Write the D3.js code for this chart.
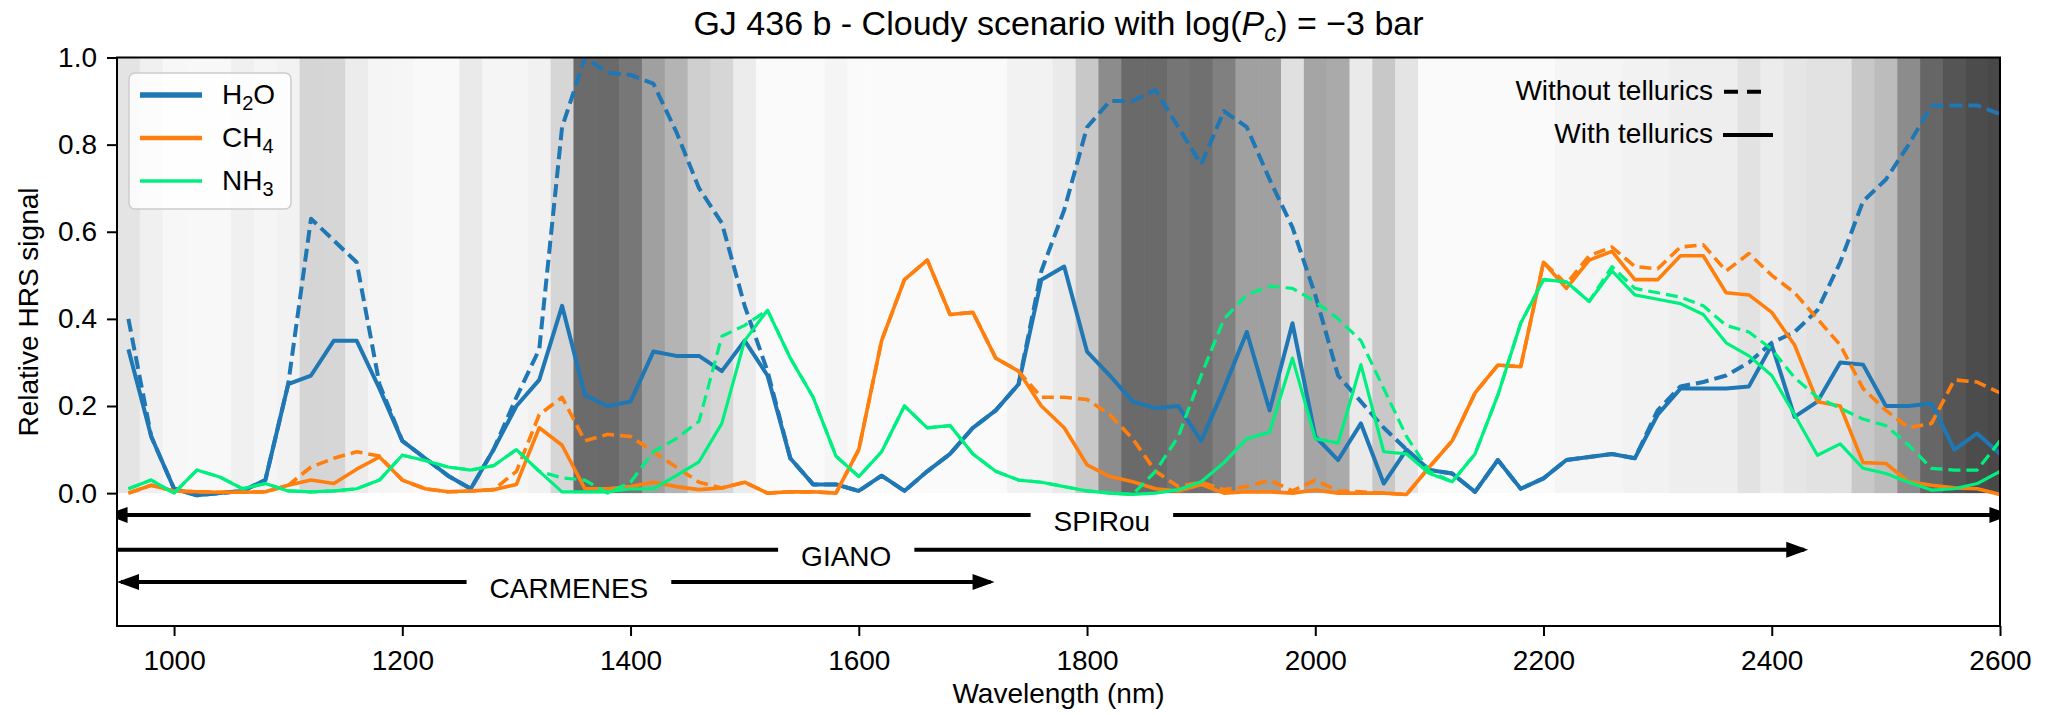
<!DOCTYPE html>
<html>
<head>
<meta charset="utf-8">
<script src="https://cdn.jsdelivr.net/npm/d3@7"></script>
<style>
  body { margin: 0; background: #fff; }
  svg text { font-family: "Liberation Sans", Arial, sans-serif; fill: #000; }
</style>
</head>
<body>
<svg id="chart" width="2045" height="715"></svg>
<script>
// wavelength grid (nm), centre of each 20 nm bin
const wavelength = [960, 980, 1000, 1020, 1040, 1060, 1080, 1100, 1120, 1140,
  1160, 1180, 1200, 1220, 1240, 1260, 1280, 1300, 1320, 1340,
  1360, 1380, 1400, 1420, 1440, 1460, 1480, 1500, 1520, 1540,
  1560, 1580, 1600, 1620, 1640, 1660, 1680, 1700, 1720, 1740,
  1760, 1780, 1800, 1820, 1840, 1860, 1880, 1900, 1920, 1940,
  1960, 1980, 2000, 2020, 2040, 2060, 2080, 2100, 2120, 2140,
  2160, 2180, 2200, 2220, 2240, 2260, 2280, 2300, 2320, 2340,
  2360, 2380, 2400, 2420, 2440, 2460, 2480, 2500, 2520, 2540,
  2560, 2580, 2600];

// telluric transmission shading, grey level per bin
const bandGray = [228, 240, 247, 248, 248, 240, 245, 242, 213, 214,
  236, 245, 246, 249, 249, 234, 245, 245, 241, 214,
  107, 106, 119, 160, 180, 207, 214, 236, 250, 250,
  250, 245, 250, 250, 250, 250, 250, 250, 250, 242,
  242, 234, 200, 140, 106, 106, 117, 112, 128, 160,
  160, 224, 165, 170, 234, 200, 228, 250, 250, 250,
  250, 250, 250, 245, 245, 245, 242, 242, 238, 238,
  238, 226, 236, 230, 226, 226, 200, 188, 140, 102,
  85, 76, 72];

// relative HRS signal, with tellurics (solid) and without (dashed)
const h2oTel = [0.33, 0.13, 0.01, -0.005, 0.0, 0.005, 0.03, 0.25, 0.27, 0.35,
  0.35, 0.24, 0.12, 0.08, 0.04, 0.01, 0.10, 0.20, 0.26, 0.43,
  0.225, 0.20, 0.21, 0.325, 0.315, 0.315, 0.28, 0.35, 0.27, 0.08,
  0.02, 0.02, 0.005, 0.04, 0.005, 0.05, 0.09, 0.15, 0.19, 0.25,
  0.49, 0.52, 0.325, 0.27, 0.21, 0.195, 0.20, 0.12, 0.24, 0.37,
  0.19, 0.39, 0.13, 0.076, 0.16, 0.022, 0.10, 0.053, 0.045, 0.003,
  0.076, 0.01, 0.034, 0.076, 0.083, 0.09, 0.08, 0.18, 0.24, 0.24,
  0.24, 0.245, 0.34, 0.175, 0.21, 0.30, 0.295, 0.20, 0.20, 0.206,
  0.10, 0.137, 0.09];
const h2oNoTel = [0.40, 0.13, 0.01, -0.005, 0.0, 0.005, 0.03, 0.25, 0.63, 0.58,
  0.53, 0.25, 0.12, 0.08, 0.04, 0.01, 0.10, 0.22, 0.33, 0.84,
  1.0, 0.965, 0.96, 0.94, 0.83, 0.70, 0.62, 0.43, 0.28, 0.08,
  0.02, 0.02, 0.005, 0.04, 0.005, 0.05, 0.09, 0.15, 0.19, 0.25,
  0.51, 0.65, 0.84, 0.90, 0.90, 0.925, 0.84, 0.755, 0.877, 0.84,
  0.72, 0.61, 0.455, 0.27, 0.21, 0.15, 0.10, 0.053, 0.045, 0.003,
  0.076, 0.01, 0.034, 0.076, 0.083, 0.09, 0.08, 0.19, 0.245, 0.255,
  0.27, 0.30, 0.345, 0.37, 0.42, 0.53, 0.67, 0.72, 0.80, 0.89,
  0.89, 0.89, 0.87];
const ch4Tel = [0.0, 0.018, 0.005, 0.003, 0.002, 0.002, 0.003, 0.018, 0.03, 0.022,
  0.055, 0.083, 0.03, 0.01, 0.003, 0.005, 0.008, 0.02, 0.15, 0.11,
  0.01, 0.01, 0.015, 0.025, 0.015, 0.008, 0.012, 0.025, 0.0, 0.003,
  0.003, 0.0, 0.10, 0.35, 0.49, 0.535, 0.41, 0.415, 0.31, 0.28,
  0.20, 0.15, 0.065, 0.038, 0.026, 0.01, 0.005, 0.02, 0.0, 0.003,
  0.003, 0.0, 0.007, 0.0, 0.0, 0.0, -0.003, 0.06, 0.12, 0.23,
  0.294, 0.29, 0.53, 0.47, 0.535, 0.555, 0.49, 0.49, 0.545, 0.545,
  0.46, 0.455, 0.415, 0.34, 0.21, 0.20, 0.07, 0.068, 0.026, 0.018,
  0.012, 0.01, -0.003];
const ch4NoTel = [0.0, 0.018, 0.005, 0.003, 0.002, 0.002, 0.003, 0.018, 0.06, 0.08,
  0.095, 0.085, 0.03, 0.01, 0.003, 0.005, 0.008, 0.05, 0.18, 0.22,
  0.12, 0.135, 0.13, 0.095, 0.06, 0.025, 0.012, 0.025, 0.0, 0.003,
  0.003, 0.0, 0.10, 0.35, 0.49, 0.535, 0.41, 0.415, 0.31, 0.28,
  0.22, 0.22, 0.215, 0.18, 0.125, 0.05, 0.015, 0.025, 0.008, 0.015,
  0.03, 0.005, 0.03, 0.005, 0.003, 0.0, -0.003, 0.06, 0.12, 0.23,
  0.294, 0.29, 0.53, 0.48, 0.545, 0.565, 0.52, 0.515, 0.565, 0.57,
  0.51, 0.55, 0.50, 0.46, 0.40, 0.34, 0.24, 0.19, 0.15, 0.16,
  0.26, 0.255, 0.23];
const nh3Tel = [0.01, 0.03, 0.0, 0.053, 0.037, 0.01, 0.022, 0.005, 0.003, 0.005,
  0.01, 0.03, 0.087, 0.075, 0.06, 0.053, 0.063, 0.10, 0.05, 0.003,
  0.003, 0.003, 0.01, 0.01, 0.04, 0.072, 0.16, 0.35, 0.42, 0.31,
  0.22, 0.085, 0.038, 0.095, 0.20, 0.15, 0.155, 0.09, 0.05, 0.03,
  0.025, 0.015, 0.005, 0.0, -0.003, 0.0, 0.008, 0.026, 0.07, 0.125,
  0.14, 0.31, 0.125, 0.115, 0.295, 0.095, 0.09, 0.045, 0.026, 0.09,
  0.225, 0.39, 0.49, 0.485, 0.44, 0.51, 0.455, 0.445, 0.435, 0.41,
  0.345, 0.315, 0.27, 0.18, 0.087, 0.113, 0.057, 0.045, 0.025, 0.007,
  0.01, 0.022, 0.05];
const nh3NoTel = [0.01, 0.03, 0.0, 0.053, 0.037, 0.01, 0.022, 0.005, 0.003, 0.005,
  0.01, 0.03, 0.087, 0.075, 0.06, 0.053, 0.063, 0.10, 0.05, 0.035,
  0.03, 0.0, 0.025, 0.095, 0.125, 0.165, 0.36, 0.385, 0.42, 0.31,
  0.22, 0.085, 0.038, 0.095, 0.20, 0.15, 0.155, 0.09, 0.05, 0.03,
  0.025, 0.015, 0.005, 0.0, -0.003, 0.05, 0.13, 0.27, 0.40, 0.455,
  0.475, 0.47, 0.44, 0.40, 0.35, 0.24, 0.13, 0.05, 0.026, 0.09,
  0.225, 0.39, 0.49, 0.485, 0.44, 0.52, 0.47, 0.46, 0.45, 0.43,
  0.385, 0.37, 0.33, 0.265, 0.22, 0.195, 0.17, 0.155, 0.11, 0.057,
  0.053, 0.053, 0.12];

// spectrograph coverage (nm)
const instrumentNames = ["SPIRou", "GIANO", "CARMENES"];
const instrumentStart = [940, 900, 950];
const instrumentEnd = [2610, 2432, 1719];
const instrumentLabelAt = [1813, 1589, 1346];

const xTicks = [1000, 1200, 1400, 1600, 1800, 2000, 2200, 2400, 2600];
const yTicks = [0.0, 0.2, 0.4, 0.6, 0.8, 1.0];

const svg = d3.select("#chart");
const mLeft = 117, mRight = 2000, mTop = 57.5, mBottom = 626;

const x = d3.scaleLinear().domain([950, 2600]).range([mLeft, mRight]);
const y = d3.scaleLinear().domain([-0.305, 1]).range([mBottom, mTop]);

svg.append("defs").append("clipPath").attr("id", "plotClip")
  .append("rect")
  .attr("x", mLeft).attr("y", mTop)
  .attr("width", mRight - mLeft).attr("height", mBottom - mTop);

const plot = svg.append("g").attr("clip-path", "url(#plotClip)");

// grey telluric bands between 0 and 1
plot.selectAll("rect.band")
  .data(bandGray)
  .join("rect")
  .attr("class", "band")
  .attr("x", (d, i) => x(wavelength[i] - 10))
  .attr("width", (d, i) => x(wavelength[i] + 10) - x(wavelength[i] - 10) + 0.6)
  .attr("y", y(1))
  .attr("height", y(0) - y(1))
  .attr("fill", d => d3.rgb(d, d, d));

// curves
const series = [
  { vals: h2oTel, color: "#1f77b4", w: 4, dash: null },
  { vals: h2oNoTel, color: "#1f77b4", w: 4, dash: "13,6" },
  { vals: ch4Tel, color: "#ff7f0e", w: 3.6, dash: null },
  { vals: ch4NoTel, color: "#ff7f0e", w: 3.6, dash: "12,6" },
  { vals: nh3Tel, color: "#00f080", w: 3.2, dash: null },
  { vals: nh3NoTel, color: "#00f080", w: 3.2, dash: "12,6" }
];

const line = d3.line()
  .x((d, i) => x(wavelength[i]))
  .y(d => y(d));

plot.selectAll("path.curve")
  .data(series)
  .join("path")
  .attr("class", "curve")
  .attr("d", d => line(d.vals))
  .attr("fill", "none")
  .attr("stroke", d => d.color)
  .attr("stroke-width", d => d.w)
  .attr("stroke-dasharray", d => d.dash)
  .attr("stroke-linejoin", "round");

// instrument ranges
const levels = [-0.05, -0.13, -0.204];
instrumentNames.forEach((name, i) => {
  const x1 = x(instrumentStart[i]), x2 = x(instrumentEnd[i]), yy = y(levels[i]);
  const hl = 22, hw = 8;
  plot.append("line")
    .attr("x1", x1 + 4).attr("x2", x2 - 4)
    .attr("y1", yy).attr("y2", yy)
    .attr("stroke", "#000").attr("stroke-width", 4);
  plot.append("path")
    .attr("d", `M${x1},${yy}L${x1 + hl},${yy - hw}L${x1 + hl},${yy + hw}Z`)
    .attr("fill", "#000");
  plot.append("path")
    .attr("d", `M${x2},${yy}L${x2 - hl},${yy - hw}L${x2 - hl},${yy + hw}Z`)
    .attr("fill", "#000");
  const lbl = svg.append("text")
    .attr("x", x(instrumentLabelAt[i]))
    .attr("y", yy + 16)
    .attr("text-anchor", "middle")
    .attr("font-size", 28)
    .text(name);
  const tw = lbl.node().getComputedTextLength();
  svg.insert("rect", () => lbl.node())
    .attr("x", x(instrumentLabelAt[i]) - tw / 2 - 23)
    .attr("width", tw + 46)
    .attr("y", yy - 14)
    .attr("height", 40)
    .attr("fill", "#fff");
});

// spines
svg.append("rect")
  .attr("x", mLeft).attr("y", mTop)
  .attr("width", mRight - mLeft).attr("height", mBottom - mTop)
  .attr("fill", "none").attr("stroke", "#000").attr("stroke-width", 2);

// axes
const yAxis = svg.append("g")
  .attr("transform", `translate(${mLeft},0)`)
  .call(d3.axisLeft(y).tickValues(yTicks).tickFormat(d3.format(".1f")).tickSize(10).tickPadding(10));
const xAxis = svg.append("g")
  .attr("transform", `translate(0,${mBottom})`)
  .call(d3.axisBottom(x).tickValues(xTicks).tickFormat(d3.format("d")).tickSize(10).tickPadding(14));
[xAxis, yAxis].forEach(a => {
  a.select(".domain").remove();
  a.attr("font-size", 28).attr("font-family", "Liberation Sans, Arial, sans-serif");
  a.selectAll(".tick line").attr("stroke-width", 2);
});

// labels
svg.append("text")
  .attr("x", (mLeft + mRight) / 2).attr("y", 703)
  .attr("text-anchor", "middle").attr("font-size", 28)
  .text("Wavelength (nm)");
svg.append("text")
  .attr("transform", "translate(38,312) rotate(-90)")
  .attr("text-anchor", "middle").attr("font-size", 28)
  .text("Relative HRS signal");

const title = svg.append("text")
  .attr("x", (mLeft + mRight) / 2).attr("y", 35)
  .attr("text-anchor", "middle").attr("font-size", 34);
title.append("tspan").text("GJ 436 b - Cloudy scenario with log(");
title.append("tspan").attr("font-style", "italic").text("P");
title.append("tspan").attr("font-style", "italic").attr("font-size", 24).attr("dy", 6).text("c");
title.append("tspan").attr("dy", -6).text(") = \u22123 bar");

// legend
const legend = svg.append("g");
legend.append("rect")
  .attr("x", 129).attr("y", 73).attr("width", 162).attr("height", 136)
  .attr("rx", 6)
  .attr("fill", "#fff").attr("fill-opacity", 0.8)
  .attr("stroke", "#ccc").attr("stroke-width", 1.5);
const legendNames = [["H", "2", "O"], ["CH", "4", ""], ["NH", "3", ""]];
const legendWidths = [5.6, 4.4, 3.4];
legendNames.forEach((parts, i) => {
  const ly = 95 + i * 43;
  legend.append("line")
    .attr("x1", 140).attr("x2", 202).attr("y1", ly).attr("y2", ly)
    .attr("stroke", series[i * 2].color).attr("stroke-width", legendWidths[i]);
  const t = legend.append("text").attr("x", 222).attr("y", ly + 9).attr("font-size", 28);
  t.append("tspan").text(parts[0]);
  t.append("tspan").attr("font-size", 20).attr("dy", 6).text(parts[1]);
  if (parts[2]) t.append("tspan").attr("dy", -6).text(parts[2]);
});

// line style key
svg.append("text").attr("x", 1713).attr("y", 100)
  .attr("text-anchor", "end").attr("font-size", 28).text("Without tellurics");
svg.append("line").attr("x1", 1724).attr("x2", 1766).attr("y1", 91.7).attr("y2", 91.7)
  .attr("stroke", "#000").attr("stroke-width", 4).attr("stroke-dasharray", "14,9");
svg.append("text").attr("x", 1713).attr("y", 143)
  .attr("text-anchor", "end").attr("font-size", 28).text("With tellurics");
svg.append("line").attr("x1", 1723).attr("x2", 1773).attr("y1", 135).attr("y2", 135)
  .attr("stroke", "#000").attr("stroke-width", 4);
</script>
</body>
</html>
